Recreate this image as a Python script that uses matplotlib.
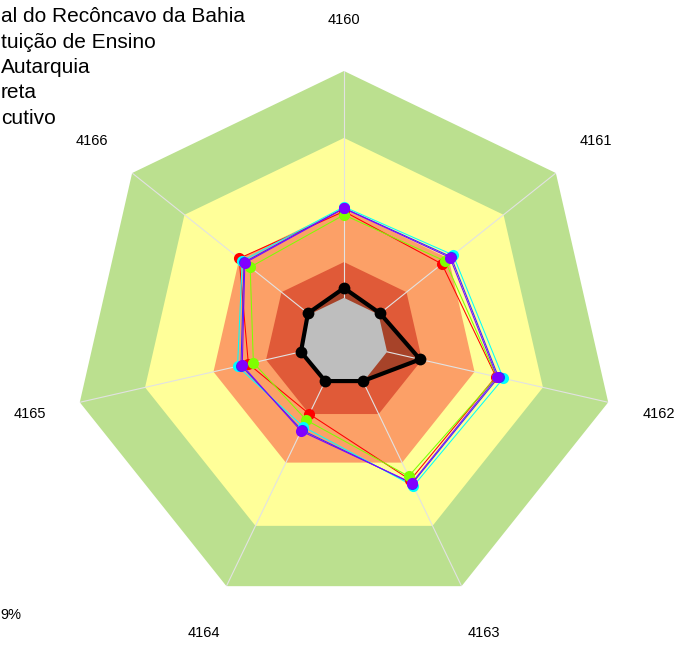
import numpy as np
import matplotlib
matplotlib.use('Agg')
import matplotlib.pyplot as plt

plt.rcParams['font.family'] = ['Liberation Sans', 'DejaVu Sans']

## axes and data (fraction of outer ring)
axis_labels = ['4160', '4161', '4162', '4163', '4164', '4165', '4166']

band_levels = [1.0, 0.753, 0.494, 0.295, 0.163]
band_colors = ['#BBE08F', '#FFFF99', '#FCA067', '#E05A38', '#BEBEBE']

black_vals  = [0.199, 0.170, 0.288, 0.160, 0.160, 0.163, 0.170]
red_vals    = [0.482, 0.462, 0.575, 0.565, 0.295, 0.362, 0.495]
green_vals  = [0.469, 0.478, 0.578, 0.550, 0.320, 0.343, 0.443]
cyan_vals   = [0.499, 0.515, 0.603, 0.590, 0.347, 0.403, 0.480]
blue_vals   = [0.494, 0.505, 0.585, 0.580, 0.360, 0.390, 0.472]
purple_vals = [0.493, 0.500, 0.580, 0.577, 0.365, 0.385, 0.468]

series = [(red_vals, '#FF0000'), (green_vals, '#7FFF00'), (cyan_vals, '#00FFFF'),
          (blue_vals, '#3030FF'), (purple_vals, '#8000FF')]

header_lines = ['al do Recôncavo da Bahia', 'tuição de Ensino', 'Autarquia',
                'reta', 'cutivo']
footer_text = '9%'

n = len(axis_labels)
theta = np.arange(n) * 2 * np.pi / n

def closed(v):
    v = list(v)
    return np.append(theta, theta[0]), np.array(v + [v[0]])

W, H = 678, 666
fig = plt.figure(figsize=(W / 100, H / 100), dpi=100)
ax = fig.add_axes([73 / W, 53 / H, 542 / W, 542 / H], projection='polar')
ax.set_theta_offset(np.pi / 2)
ax.set_theta_direction(-1)
ax.set_ylim(0, 1)
ax.set_axis_off()

# background bands (all but the grey core)
for lev, col in zip(band_levels[:-1], band_colors[:-1]):
    t, r = closed([lev] * n)
    ax.fill(t, r, color=col, lw=0, zorder=1)

# black series fill, darkening what lies under it
t, r = closed(black_vals)
ax.fill(t, r, color='black', alpha=0.25, lw=0, zorder=2)

# spokes
for th in theta:
    ax.plot([th, th], [band_levels[-1], 1.0], color='#E2E2E2', lw=0.8, zorder=3)

# grey core
t, r = closed([band_levels[-1]] * n)
ax.fill(t, r, color=band_colors[-1], lw=0, zorder=4)

# coloured series
for vals, col in series:
    t, r = closed(vals)
    ax.plot(t, r, color=col, lw=0.75, zorder=5)
    ax.plot(theta, vals, 'o', color=col, ms=8, mew=0, zorder=6)

t, r = closed(black_vals)
ax.plot(t, r, color='black', lw=3, zorder=7)
ax.plot(theta, black_vals, 'o', color='black', ms=8.5, mew=0, zorder=8)

for th, lab in zip(theta, axis_labels):
    ax.text(th, 1.19, lab, ha='center', va='center', fontsize=10.5, clip_on=False)

for i, line in enumerate(header_lines):
    fig.text(1 / W, 1 - (17 + i * 25.3) / H, line, ha='left', va='center', fontsize=15)
fig.text(0 / W, 1 - 615 / H, footer_text, ha='left', va='center', fontsize=10.5)

plt.savefig('out.png', dpi=100)
